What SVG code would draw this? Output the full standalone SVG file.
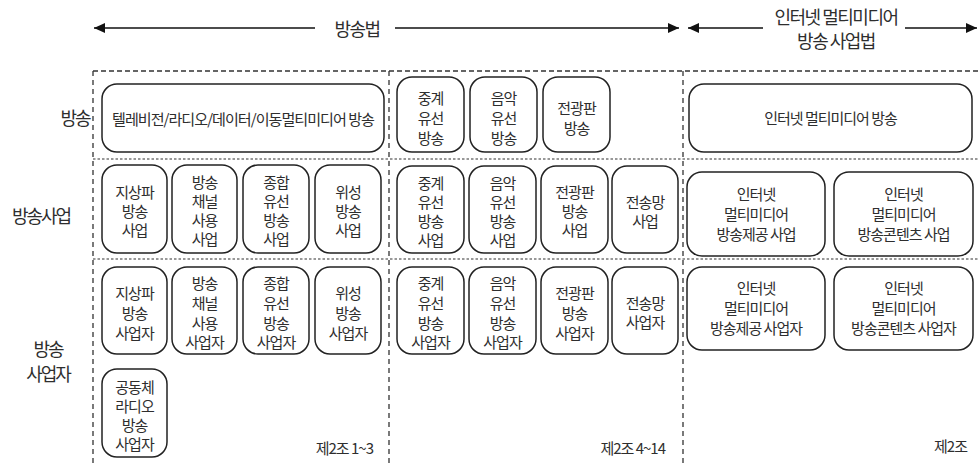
<svg xmlns="http://www.w3.org/2000/svg" width="978" height="469" viewBox="0 0 978 469">
<defs>
<marker id="ah" markerUnits="userSpaceOnUse" viewBox="0 0 11 10" refX="11" refY="5" markerWidth="11" markerHeight="10" orient="auto">
<path d="M0,0 L11,5 L0,10 z" fill="#111"/>
</marker>
<style>
text{font-family:"Noto Sans CJK KR","Noto Sans",sans-serif;fill:#2e2e2e;dominant-baseline:central;text-anchor:middle}
.t{font-size:15px;letter-spacing:-1px}
.h{font-size:18px;letter-spacing:-1.5px}
.lab{font-size:18px;letter-spacing:-2px}
.ft{font-size:15px;letter-spacing:-1px;text-anchor:end}
.box{fill:#fff;stroke:#222;stroke-width:1.5}
.arr{stroke:#111;stroke-width:1.5;fill:none}
.vd{stroke:#333;stroke-width:1.3;stroke-dasharray:5 4;fill:none}
.td{stroke:#333;stroke-width:1.3;stroke-dasharray:5 3;fill:none}
.rd{stroke:#333;stroke-width:1.2;stroke-dasharray:2.5 2;fill:none}
</style>
</defs>
<rect width="978" height="469" fill="#fff"/>

<g id="frame">
<line class="td" x1="93" y1="71" x2="978" y2="71"/>
<line class="rd" x1="93" y1="159" x2="978" y2="159"/>
<line class="rd" x1="93" y1="259" x2="978" y2="259"/>
<line class="vd" x1="93" y1="71" x2="93" y2="466"/>
<line class="vd" x1="389" y1="71" x2="389" y2="466"/>
<line class="vd" x1="683" y1="71" x2="683" y2="466"/>
</g>

<g id="connectors">
<line class="arr" x1="315" y1="28" x2="94" y2="28" marker-end="url(#ah)"/>
<line class="arr" x1="395" y1="28" x2="679" y2="28" marker-end="url(#ah)"/>
<line class="arr" x1="763" y1="28" x2="688" y2="28" marker-end="url(#ah)"/>
<line class="arr" x1="905" y1="28" x2="977" y2="28" marker-end="url(#ah)"/>
</g>

<g id="headers">
<text class="h" x="357" y="28">방송법</text>
<text class="h" x="836" y="16">인터넷 멀티미디어</text>
<text class="h" x="836" y="40">방송 사업법</text>
</g>

<g id="row-labels">
<text class="lab" x="75" y="117">방송</text>
<text class="lab" x="41" y="215">방송사업</text>
<text class="lab" x="48" y="348">방송</text>
<text class="lab" x="48" y="373">사업자</text>
</g>

<!-- Row 1: 방송 -->
<g id="n-tv-broadcast">
<rect class="box" x="102" y="84" width="282" height="68" rx="15"/>
<text class="t" x="243" y="118" textLength="262" lengthAdjust="spacingAndGlyphs">텔레비전/라디오/데이터/이동멀티미디어 방송</text>
</g>
<g id="n-relay-broadcast">
<rect class="box" x="397" y="77" width="67" height="75" rx="15"/>
<text class="t" x="430.5" y="97">중계</text><text class="t" x="430.5" y="117">유선</text><text class="t" x="430.5" y="137">방송</text>
</g>
<g id="n-music-broadcast">
<rect class="box" x="470" y="77" width="67" height="75" rx="15"/>
<text class="t" x="503.5" y="97">음악</text><text class="t" x="503.5" y="117">유선</text><text class="t" x="503.5" y="137">방송</text>
</g>
<g id="n-board-broadcast">
<rect class="box" x="543" y="77" width="67" height="75" rx="15"/>
<text class="t" x="576.5" y="107">전광판</text><text class="t" x="576.5" y="127">방송</text>
</g>
<g id="n-iptv-broadcast">
<rect class="box" x="689" y="84" width="283" height="68" rx="15"/>
<text class="t" x="830.5" y="117">인터넷 멀티미디어 방송</text>
</g>

<!-- Row 2: 방송사업 -->
<g id="n-terr-biz">
<rect class="box" x="102" y="165" width="65" height="88" rx="15"/>
<text class="t" x="134.5" y="191">지상파</text><text class="t" x="134.5" y="210">방송</text><text class="t" x="134.5" y="229">사업</text>
</g>
<g id="n-pp-biz">
<rect class="box" x="172" y="165" width="65" height="88" rx="15"/>
<text class="t" x="204.5" y="181">방송</text><text class="t" x="204.5" y="200">채널</text><text class="t" x="204.5" y="219">사용</text><text class="t" x="204.5" y="238">사업</text>
</g>
<g id="n-so-biz">
<rect class="box" x="243" y="165" width="66" height="88" rx="15"/>
<text class="t" x="276" y="181">종합</text><text class="t" x="276" y="200">유선</text><text class="t" x="276" y="219">방송</text><text class="t" x="276" y="238">사업</text>
</g>
<g id="n-sat-biz">
<rect class="box" x="315" y="165" width="66" height="88" rx="15"/>
<text class="t" x="348" y="191">위성</text><text class="t" x="348" y="210">방송</text><text class="t" x="348" y="229">사업</text>
</g>
<g id="n-relay-biz">
<rect class="box" x="397" y="166" width="67" height="87" rx="15"/>
<text class="t" x="430.5" y="182">중계</text><text class="t" x="430.5" y="201">유선</text><text class="t" x="430.5" y="220">방송</text><text class="t" x="430.5" y="239">사업</text>
</g>
<g id="n-music-biz">
<rect class="box" x="469" y="166" width="67" height="87" rx="15"/>
<text class="t" x="502.5" y="182">음악</text><text class="t" x="502.5" y="201">유선</text><text class="t" x="502.5" y="220">방송</text><text class="t" x="502.5" y="239">사업</text>
</g>
<g id="n-board-biz">
<rect class="box" x="541" y="166" width="67" height="87" rx="15"/>
<text class="t" x="574.5" y="191">전광판</text><text class="t" x="574.5" y="210">방송</text><text class="t" x="574.5" y="229">사업</text>
</g>
<g id="n-network-biz">
<rect class="box" x="612" y="166" width="66" height="87" rx="15"/>
<text class="t" x="645" y="201">전송망</text><text class="t" x="645" y="220">사업</text>
</g>
<g id="n-iptv-provide-biz">
<rect class="box" x="687" y="172" width="138" height="84" rx="15"/>
<text class="t" x="756" y="193">인터넷</text><text class="t" x="756" y="213">멀티미디어</text><text class="t" x="756" y="233">방송제공 사업</text>
</g>
<g id="n-iptv-content-biz">
<rect class="box" x="834" y="172" width="139" height="84" rx="15"/>
<text class="t" x="903.5" y="193">인터넷</text><text class="t" x="903.5" y="213">멀티미디어</text><text class="t" x="903.5" y="233">방송콘텐츠 사업</text>
</g>

<!-- Row 3: 방송사업자 -->
<g id="n-terr-op">
<rect class="box" x="102" y="267" width="65" height="87" rx="15"/>
<text class="t" x="134.5" y="292">지상파</text><text class="t" x="134.5" y="312">방송</text><text class="t" x="134.5" y="332">사업자</text>
</g>
<g id="n-pp-op">
<rect class="box" x="172" y="267" width="65" height="87" rx="15"/>
<text class="t" x="204.5" y="282">방송</text><text class="t" x="204.5" y="302">채널</text><text class="t" x="204.5" y="322">사용</text><text class="t" x="204.5" y="341">사업자</text>
</g>
<g id="n-so-op">
<rect class="box" x="243" y="267" width="66" height="87" rx="15"/>
<text class="t" x="276" y="282">종합</text><text class="t" x="276" y="302">유선</text><text class="t" x="276" y="322">방송</text><text class="t" x="276" y="341">사업자</text>
</g>
<g id="n-sat-op">
<rect class="box" x="315" y="267" width="66" height="87" rx="15"/>
<text class="t" x="348" y="292">위성</text><text class="t" x="348" y="312">방송</text><text class="t" x="348" y="332">사업자</text>
</g>
<g id="n-community-op">
<rect class="box" x="102" y="369" width="65" height="88" rx="15"/>
<text class="t" x="134.5" y="386">공동체</text><text class="t" x="134.5" y="405">라디오</text><text class="t" x="134.5" y="424">방송</text><text class="t" x="134.5" y="443">사업자</text>
</g>
<g id="n-relay-op">
<rect class="box" x="397" y="267" width="67" height="87" rx="15"/>
<text class="t" x="430.5" y="282">중계</text><text class="t" x="430.5" y="302">유선</text><text class="t" x="430.5" y="322">방송</text><text class="t" x="430.5" y="341">사업자</text>
</g>
<g id="n-music-op">
<rect class="box" x="469" y="267" width="67" height="87" rx="15"/>
<text class="t" x="502.5" y="282">음악</text><text class="t" x="502.5" y="302">유선</text><text class="t" x="502.5" y="322">방송</text><text class="t" x="502.5" y="341">사업자</text>
</g>
<g id="n-board-op">
<rect class="box" x="541" y="267" width="67" height="87" rx="15"/>
<text class="t" x="574.5" y="292">전광판</text><text class="t" x="574.5" y="312">방송</text><text class="t" x="574.5" y="332">사업자</text>
</g>
<g id="n-network-op">
<rect class="box" x="612" y="267" width="66" height="87" rx="15"/>
<text class="t" x="645" y="302">전송망</text><text class="t" x="645" y="321">사업자</text>
</g>
<g id="n-iptv-provide-op">
<rect class="box" x="687" y="267" width="138" height="83" rx="15"/>
<text class="t" x="756" y="287">인터넷</text><text class="t" x="756" y="307">멀티미디어</text><text class="t" x="756" y="327">방송제공 사업자</text>
</g>
<g id="n-iptv-content-op">
<rect class="box" x="834" y="267" width="139" height="83" rx="15"/>
<text class="t" x="903.5" y="287">인터넷</text><text class="t" x="903.5" y="307">멀티미디어</text><text class="t" x="903.5" y="327">방송콘텐츠 사업자</text>
</g>

<g id="footnotes">
<text class="ft" x="373" y="447">제2조 1~3</text>
<text class="ft" x="665" y="447">제2조 4~14</text>
<text class="ft" x="967" y="445">제2조</text>
</g>
</svg>
